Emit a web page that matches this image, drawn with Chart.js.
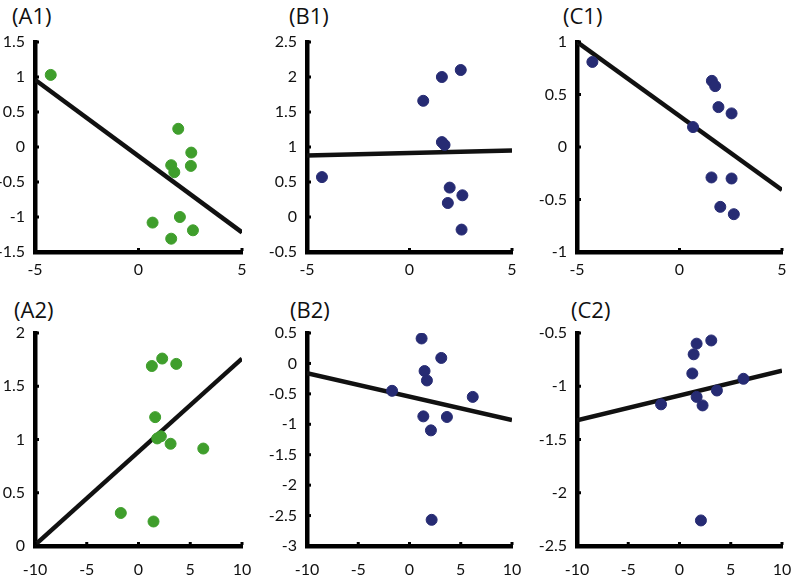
<!DOCTYPE html>
<html>
<head>
<meta charset="utf-8">
<script src="https://cdn.jsdelivr.net/npm/chart.js@4"></script>
<style>
  body { margin: 0; background: #fff; width: 800px; height: 579px; position: relative; overflow: hidden; }
  .panel { position: absolute; }
  .lbl { position: absolute; font-family: "Open Sans", sans-serif; font-size: 22px; color: #111; }
</style>
</head>
<body>
<div class="lbl" style="left:12px;top:0px">(A1)</div>
<div class="lbl" style="left:289px;top:0px">(B1)</div>
<div class="lbl" style="left:563px;top:0px">(C1)</div>
<div class="lbl" style="left:14px;top:294px">(A2)</div>
<div class="lbl" style="left:290px;top:294px">(B2)</div>
<div class="lbl" style="left:571px;top:294px">(C2)</div>

<div class="panel" style="left:-15px;top:30px;width:285px;height:252px"><canvas id="A1"></canvas></div>
<div class="panel" style="left:257px;top:30px;width:275px;height:252px"><canvas id="B1"></canvas></div>
<div class="panel" style="left:527px;top:30px;width:273px;height:252px"><canvas id="C1"></canvas></div>
<div class="panel" style="left:-15px;top:321px;width:285px;height:258px"><canvas id="A2"></canvas></div>
<div class="panel" style="left:257px;top:321px;width:275px;height:258px"><canvas id="B2"></canvas></div>
<div class="panel" style="left:527px;top:321px;width:273px;height:258px"><canvas id="C2"></canvas></div>

<script>
var green = '#3f9e2c';
var navy = '#262b73';

// (A1)
var a1X = [-4.24, 1.92, 2.55, 2.53, 1.58, 1.73, 0.68, 2.0, 2.63, 1.58];
var a1Y = [1.03, 0.26, -0.08, -0.27, -0.26, -0.36, -1.08, -1.0, -1.19, -1.31];
var a1Fit = [[-5, 0.96], [5, -1.22]];
var a1Ticks = { x: [-5, 0, 5], y: [-1.5, -1, -0.5, 0, 0.5, 1, 1.5] };

// (B1)
var b1X = [-4.27, 0.67, 1.58, 2.5, 1.58, 1.71, 1.96, 2.58, 1.87, 2.54];
var b1Y = [0.57, 1.66, 2.0, 2.1, 1.07, 1.03, 0.42, 0.31, 0.2, -0.18];
var b1Fit = [[-5, 0.88], [5, 0.95]];
var b1Ticks = { x: [-5, 0, 5], y: [-0.5, 0, 0.5, 1, 1.5, 2, 2.5] };

// (C1)
var c1X = [-4.25, 1.58, 1.74, 1.9, 2.54, 0.66, 1.56, 2.54, 1.99, 2.65];
var c1Y = [0.81, 0.63, 0.58, 0.38, 0.32, 0.19, -0.29, -0.3, -0.57, -0.64];
var c1Fit = [[-5, 1.0], [5, -0.41]];
var c1Ticks = { x: [-5, 0, 5], y: [-1, -0.5, 0, 0.5, 1] };

// (A2)
var a2X = [1.29, 2.29, 3.65, 1.61, 1.81, 2.16, 3.1, 6.26, -1.71, 1.45];
var a2Y = [1.69, 1.76, 1.71, 1.21, 1.01, 1.03, 0.96, 0.915, 0.31, 0.23];
var a2Fit = [[-10, 0.01], [10, 1.76]];
var a2Ticks = { x: [-10, -5, 0, 5, 10], y: [0, 0.5, 1, 1.5, 2] };

// (B2)
var b2X = [1.18, 3.1, 1.47, 1.7, -1.7, 6.17, 1.35, 3.65, 2.09, 2.16];
var b2Y = [0.41, 0.09, -0.125, -0.28, -0.45, -0.55, -0.87, -0.88, -1.1, -2.57];
var b2Fit = [[-10, -0.16], [10, -0.93]];
var b2Ticks = { x: [-10, -5, 0, 5, 10], y: [-3, -2.5, -2, -1.5, -1, -0.5, 0, 0.5] };

// (C2)
var c2X = [3.1, 1.67, 1.38, 1.25, 6.24, 3.65, 1.67, -1.8, 2.25, 2.09];
var c2Y = [-0.57, -0.6, -0.7, -0.88, -0.93, -1.04, -1.1, -1.17, -1.18, -2.26];
var c2Fit = [[-10, -1.32], [10, -0.855]];
var c2Ticks = { x: [-10, -5, 0, 5, 10], y: [-2.5, -2, -1.5, -1, -0.5] };

// small inward tick marks along both axes
var innerTicks = {
	id: 'innerTicks',
	afterDraw: function (chart) {
		var ctx = chart.ctx, a = chart.chartArea;
		ctx.save();
		ctx.fillStyle = '#000';
		chart.scales.x.ticks.forEach(function (t) {
			var px = chart.scales.x.getPixelForValue(t.value);
			ctx.fillRect(px - 1.5, a.bottom - 4, 3, 3);
		});
		chart.scales.y.ticks.forEach(function (t) {
			var py = chart.scales.y.getPixelForValue(t.value);
			ctx.fillRect(a.left + 1, py - 1.5, 3, 3);
		});
		ctx.restore();
	}
};

function makePanel(id, xs, ys, fit, ticks, color, rightPad, xPad, xH) {
	var pts = xs.map(function (x, i) { return { x: x, y: ys[i] }; });
	var line = fit.map(function (p) { return { x: p[0], y: p[1] }; });
	var tickFont = { family: 'Lato, "Open Sans", sans-serif', size: 16 };
	var fmt = function (v) { return String(v); };
	new Chart(document.getElementById(id), {
		type: 'scatter',
		data: {
			datasets: [
				{
					data: pts,
					backgroundColor: color,
					borderColor: color,
					pointRadius: 5.5,
					pointHoverRadius: 5.5
				},
				{
					type: 'line',
					data: line,
					borderColor: '#111',
					borderWidth: 4.5,
					pointRadius: 0,
					fill: false
				}
			]
		},
		options: {
			responsive: true,
			maintainAspectRatio: false,
			animation: false,
			events: [],
			layout: { autoPadding: false, padding: { top: 12, right: rightPad, left: 0, bottom: 0 } },
			plugins: { legend: { display: false }, tooltip: { enabled: false } },
			scales: {
				x: {
					type: 'linear',
					min: ticks.x[0],
					max: ticks.x[ticks.x.length - 1],
					afterBuildTicks: function (s) { s.ticks = ticks.x.map(function (v) { return { value: v }; }); },
					afterFit: function (s) { s.height = xH; },
					grid: { display: false },
					border: { color: '#000', width: 4.5 },
					ticks: { color: '#111', font: tickFont, padding: xPad, maxRotation: 0, callback: fmt }
				},
				y: {
					type: 'linear',
					min: ticks.y[0],
					max: ticks.y[ticks.y.length - 1],
					afterBuildTicks: function (s) { s.ticks = ticks.y.map(function (v) { return { value: v }; }); },
					afterFit: function (s) { s.width = 50; },
					grid: { display: false },
					border: { color: '#000', width: 4.5 },
					ticks: { color: '#111', font: tickFont, padding: 2, callback: fmt }
				}
			}
		},
		plugins: [innerTicks]
	});
}

makePanel('A1', a1X, a1Y, a1Fit, a1Ticks, green, 28, 0, 30);
makePanel('B1', b1X, b1Y, b1Fit, b1Ticks, navy, 20, 0, 30);
makePanel('C1', c1X, c1Y, c1Fit, c1Ticks, navy, 18, 0, 30);
makePanel('A2', a2X, a2Y, a2Fit, a2Ticks, green, 28, 6, 33);
makePanel('B2', b2X, b2Y, b2Fit, b2Ticks, navy, 20, 6, 33);
makePanel('C2', c2X, c2Y, c2Fit, c2Ticks, navy, 18, 6, 33);
</script>
</body>
</html>
